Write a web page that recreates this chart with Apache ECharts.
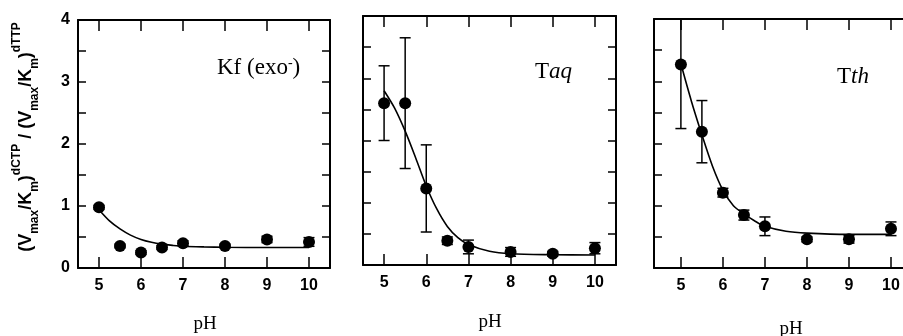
<!DOCTYPE html>
<html>
<head>
<meta charset="utf-8">
<script src="https://cdn.jsdelivr.net/npm/echarts@6/dist/echarts.min.js"></script>
<style>
html,body{margin:0;padding:0;background:#fff;}
#chart{width:903px;height:336px;}
</style>
</head>
<body>
<div id="chart"></div>
<script>
// ---- data ----
const pH = [5, 5.5, 6, 6.5, 7, 8, 9, 10];
const kfValues = [0.98, 0.355, 0.25, 0.33, 0.40, 0.355, 0.46, 0.42];
const kfErrors = [0.03, 0.03, 0.03, 0.03, 0.04, 0.03, 0.05, 0.07];
const taqValues = [2.60, 2.60, 1.23, 0.39, 0.29, 0.21, 0.18, 0.27];
const taqErrors = [0.60, 1.05, 0.70, 0.06, 0.11, 0.07, 0.04, 0.09];
const tthValues = [3.27, 2.19, 1.21, 0.85, 0.67, 0.46, 0.46, 0.63];
const tthErrors = [1.03, 0.50, 0.07, 0.08, 0.15, 0.04, 0.06, 0.11];

const fitPH = [5, 5.25, 5.5, 5.75, 6, 6.25, 6.5, 6.75, 7, 7.5, 8, 9, 10];
const kfFit = [0.94, 0.76, 0.63, 0.53, 0.46, 0.415, 0.385, 0.365, 0.35, 0.34, 0.335, 0.33, 0.33];
const taqFit = [2.80, 2.52, 2.15, 1.72, 1.27, 0.90, 0.62, 0.44, 0.33, 0.22, 0.18, 0.165, 0.16];
const tthFit = [3.28, 2.68, 2.14, 1.64, 1.25, 1.00, 0.87, 0.76, 0.67, 0.59, 0.56, 0.54, 0.54];

const xTickValues = [5, 6, 7, 8, 9, 10];
const yLabelValues = [0, 1, 2, 3, 4];
const yTickValues = [0, 0.5, 1, 1.5, 2, 2.5, 3, 3.5, 4];
const panelTitles = ['Kf (exo{sup|-})', 'T{it|aq}', 'T{it|th}'];
const xAxisTitle = 'pH';
const yAxisTitle = '(V{sub|max}/K{sub|m}){sup|dCTP} / (V{sub|max}/K{sub|m}){sup|dTTP}';

// ---- layout ----
const grids = [
  {left: 78, top: 20, width: 252, height: 248, outerBoundsMode: 'none'},
  {left: 363, top: 16, width: 253, height: 249, outerBoundsMode: 'none'},
  {left: 654, top: 19, width: 258, height: 249, outerBoundsMode: 'none'}
];
const xRanges = [[4.5, 10.5], [4.5, 10.5], [4.36, 10.5]];
const panels = [
  {vals: kfValues, errs: kfErrors, fit: kfFit},
  {vals: taqValues, errs: taqErrors, fit: taqFit},
  {vals: tthValues, errs: tthErrors, fit: tthFit}
];

const sansBold = {fontFamily: 'Liberation Sans, Arial, sans-serif', fontWeight: 'bold', fontSize: 16, color: '#000'};
const lineStyle = {color: '#000', width: 2};
const tickStyle = {color: '#000', width: 1.5};

const xAxes = [], yAxes = [], series = [];
grids.forEach((g, i) => {
  const [mn, mx] = xRanges[i];
  xAxes.push({
    type: 'value', gridIndex: i, position: 'bottom', min: mn, max: mx,
    axisLine: {show: true, onZero: false, lineStyle},
    axisTick: {show: true, inside: true, length: 11, lineStyle: tickStyle, customValues: xTickValues},
    axisLabel: Object.assign({show: true, margin: 10, customValues: xTickValues}, sansBold),
    splitLine: {show: false}
  });
  xAxes.push({
    type: 'value', gridIndex: i, position: 'top', min: mn, max: mx,
    axisLine: {show: true, onZero: false, lineStyle},
    axisTick: {show: true, inside: true, length: 11, lineStyle: tickStyle, customValues: xTickValues},
    axisLabel: {show: false},
    splitLine: {show: false}
  });
  yAxes.push({
    type: 'value', gridIndex: i, position: 'left', min: 0, max: 4,
    axisLine: {show: true, onZero: false, lineStyle},
    axisTick: {show: true, inside: true, length: 8, lineStyle: tickStyle, customValues: yTickValues},
    axisLabel: Object.assign({show: i === 0, margin: 8, customValues: yLabelValues}, sansBold),
    splitLine: {show: false}
  });
  yAxes.push({
    type: 'value', gridIndex: i, position: 'right', min: 0, max: 4,
    axisLine: {show: true, onZero: false, lineStyle},
    axisTick: {show: true, inside: true, length: 8, lineStyle: tickStyle, customValues: yTickValues},
    axisLabel: {show: false},
    splitLine: {show: false}
  });

  const p = panels[i];
  series.push({
    type: 'line', xAxisIndex: 2 * i, yAxisIndex: 2 * i,
    data: fitPH.map((x, k) => [x, p.fit[k]]),
    smooth: 0.3, showSymbol: false, symbol: 'none',
    lineStyle: {color: '#000', width: 1.6}, silent: true, z: 2
  });
  series.push({
    type: 'custom', xAxisIndex: 2 * i, yAxisIndex: 2 * i, clip: true, z: 3,
    data: pH.map((x, k) => [x, p.vals[k] - p.errs[k], p.vals[k] + p.errs[k]]),
    encode: {x: 0, y: [1, 2]},
    renderItem: function (params, api) {
      const x = api.value(0);
      const a = api.coord([x, api.value(1)]);
      const b = api.coord([x, api.value(2)]);
      const w = 5.5;
      const st = {stroke: '#000', lineWidth: 1.5};
      return {type: 'group', children: [
        {type: 'line', shape: {x1: a[0], y1: a[1], x2: b[0], y2: b[1]}, style: st},
        {type: 'line', shape: {x1: a[0] - w, y1: a[1], x2: a[0] + w, y2: a[1]}, style: st},
        {type: 'line', shape: {x1: b[0] - w, y1: b[1], x2: b[0] + w, y2: b[1]}, style: st}
      ]};
    }
  });
  series.push({
    type: 'scatter', xAxisIndex: 2 * i, yAxisIndex: 2 * i,
    data: pH.map((x, k) => [x, p.vals[k]]),
    symbol: 'circle', symbolSize: 12, itemStyle: {color: '#000', opacity: 1}, z: 4
  });
});

const serif = 'Liberation Serif, Times New Roman, serif';
const titlePos = [[217, 68], [535, 72], [837, 77]];
const phPos = [[205, 324], [490, 322], [791, 329]];
const graphics = [];
titlePos.forEach((pos, i) => {
  graphics.push({
    type: 'text', left: pos[0], top: pos[1] - 12, z: 10,
    style: {
      text: panelTitles[i], fill: '#000', font: '23px ' + serif,
      rich: {
        sup: {fontFamily: serif, fontSize: 14, verticalAlign: 'top', lineHeight: 16, fill: '#000'},
        it: {fontFamily: serif, fontSize: 23, fontStyle: 'italic', fill: '#000'}
      }
    }
  });
});
phPos.forEach(pos => {
  graphics.push({
    type: 'text', x: pos[0], y: pos[1], z: 10,
    style: {text: xAxisTitle, fill: '#000', font: '19px ' + serif, align: 'center', verticalAlign: 'middle'}
  });
});
const sf = 'Liberation Sans, Arial, sans-serif';
graphics.push({
  type: 'text', x: 26, y: 137, rotation: Math.PI / 2, z: 10,
  style: {
    text: yAxisTitle, fill: '#000', align: 'center', verticalAlign: 'middle',
    fontFamily: sf, fontSize: 18, fontWeight: 'bold', lineHeight: 30,
    rich: {
      sub: {fontFamily: sf, fontSize: 12, fontWeight: 'bold', verticalAlign: 'bottom', lineHeight: 8, fill: '#000'},
      sup: {fontFamily: sf, fontSize: 12, fontWeight: 'bold', verticalAlign: 'top', lineHeight: 20, fill: '#000'}
    }
  }
});

const chart = echarts.init(document.getElementById('chart'), null, {renderer: 'canvas'});
chart.setOption({
  animation: false,
  backgroundColor: '#fff',
  grid: grids,
  xAxis: xAxes,
  yAxis: yAxes,
  series: series,
  graphic: graphics
});
</script>
</body>
</html>
